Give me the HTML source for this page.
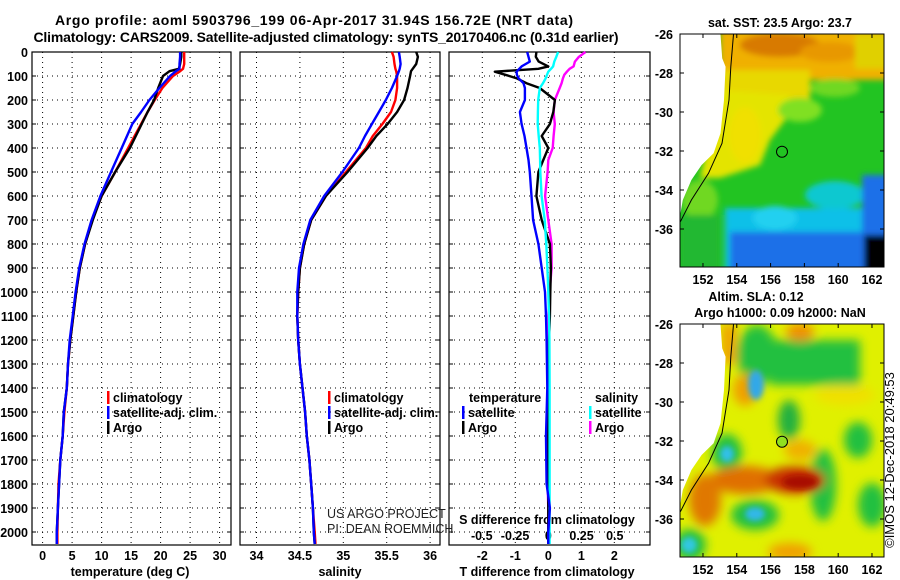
<!DOCTYPE html>
<html><head><meta charset="utf-8">
<style>
html,body{margin:0;padding:0;background:#fff;}
svg{display:block;font-family:"Liberation Sans",sans-serif;}
.b{font-weight:bold;}
</style></head>
<body>
<svg id="fig" width="900" height="580" viewBox="0 0 900 580">
<defs>
  <clipPath id="cTop"><rect x="680" y="34" width="204" height="233"/></clipPath>
  <clipPath id="cBot"><rect x="680" y="324" width="204" height="233"/></clipPath>
  <filter id="bl" x="-20%" y="-20%" width="140%" height="140%"><feGaussianBlur stdDeviation="3"/></filter>
  <filter id="bl2" x="-50%" y="-50%" width="200%" height="200%"><feGaussianBlur stdDeviation="5"/></filter>
</defs>
<g class="b" font-size="14" text-anchor="middle">
  <text x="314" y="25" textLength="518">Argo profile: aoml 5903796_199 06-Apr-2017 31.94S 156.72E (NRT data)</text>
  <text x="326" y="42" textLength="585">Climatology: CARS2009. Satellite-adjusted climatology: synTS_20170406.nc (0.31d earlier)</text>
</g>
<g id="panels"></g>
<!-- top map -->
<g>
 <g clip-path="url(#cTop)">
  <rect x="680" y="34" width="204" height="233" fill="#22c422"/>
  <g filter="url(#bl)">
   <rect x="720" y="30" width="170" height="50" fill="#f0b000"/>
   <rect x="720" y="70" width="90" height="30" fill="#e8d800"/>
   <ellipse cx="780" cy="45" rx="40" ry="12" fill="#d87a00"/>
   <ellipse cx="830" cy="52" rx="30" ry="10" fill="#e89800"/>
   <rect x="855" y="34" width="35" height="35" fill="#e0d000"/>
   <polygon points="720,90 790,95 785,120 770,140 760,165 720,178 700,178" fill="#e4e400"/>
   <ellipse cx="745" cy="135" rx="16" ry="28" fill="#f0e000"/>
   <ellipse cx="800" cy="110" rx="22" ry="12" fill="#80e020"/>
   <ellipse cx="835" cy="88" rx="25" ry="9" fill="#70d820"/>
   <ellipse cx="700" cy="200" rx="18" ry="20" fill="#70d820"/>
   <rect x="725" y="208" width="140" height="70" fill="#10c0e8"/>
   <ellipse cx="835" cy="195" rx="30" ry="14" fill="#10c8d0"/>
   <rect x="730" y="232" width="160" height="50" fill="#1a70e8"/>
   <rect x="862" y="175" width="30" height="80" fill="#1a70e8"/>
   <ellipse cx="775" cy="218" rx="22" ry="12" fill="#20d0f0"/>
   <rect x="864" y="235" width="30" height="40" fill="#000"/>
   <rect x="680" y="215" width="40" height="60" fill="#22b830"/>
  </g>
 </g>
</g>
<!-- bottom map -->
<g>
 <g clip-path="url(#cBot)">
  <rect x="680" y="324" width="204" height="233" fill="#e0f000"/>
  <g filter="url(#bl2)">
   <rect x="722" y="324" width="14" height="40" fill="#f0a000"/>
   <ellipse cx="757" cy="355" rx="20" ry="30" fill="#20c040"/>
   <rect x="770" y="340" width="90" height="45" fill="#20c040"/>
   <ellipse cx="800" cy="332" rx="14" ry="9" fill="#f09000"/>
   <ellipse cx="845" cy="395" rx="30" ry="10" fill="#f0e000"/>
   <ellipse cx="789" cy="420" rx="11" ry="20" fill="#20b040"/>
   <ellipse cx="727" cy="453" rx="15" ry="19" fill="#20c040"/>
   <ellipse cx="823" cy="485" rx="13" ry="36" fill="#20c040"/>
   <ellipse cx="858" cy="440" rx="14" ry="18" fill="#20c040"/>
   <ellipse cx="872" cy="505" rx="14" ry="22" fill="#20c040"/>
   <ellipse cx="755" cy="515" rx="24" ry="15" fill="#20c040"/>
   <ellipse cx="690" cy="545" rx="16" ry="16" fill="#20c040"/>
   <ellipse cx="745" cy="390" rx="12" ry="16" fill="#f0a000"/>
   <ellipse cx="745" cy="480" rx="35" ry="14" fill="#e07000"/>
   <ellipse cx="705" cy="500" rx="16" ry="26" fill="#e07800"/>
   <ellipse cx="800" cy="450" rx="16" ry="10" fill="#f0b000"/>
   <ellipse cx="790" cy="552" rx="22" ry="9" fill="#f0a000"/>
   <ellipse cx="795" cy="480" rx="30" ry="14" fill="#c83000"/>
  </g>
  <g filter="url(#bl)">
   <ellipse cx="756" cy="385" rx="8" ry="15" fill="#30a8e8"/>
   <ellipse cx="727" cy="454" rx="7" ry="8" fill="#30c0e8"/>
   <ellipse cx="755" cy="514" rx="10" ry="7" fill="#30b8e8"/>
   <ellipse cx="689" cy="545" rx="8" ry="8" fill="#30c8e0"/>
   <ellipse cx="800" cy="482" rx="18" ry="7" fill="#a81000"/>
  </g>
 </g>
</g>
<!-- land and overlays drawn on top of both maps -->
<g>
 <polygon points="680,34.5 720.5,34.5 722.2,58.3 725.6,66.7 724,100 720.5,133.3 713.6,153.3 701.6,165 691.4,180 682.8,200 680.5,213.3" fill="white" stroke="none"/>
 <polygon points="680,324.5 720.5,324.5 722.2,348.3 725.6,356.7 724,390 720.5,423.3 713.6,443.3 701.6,455 691.4,470 682.8,490 680.5,503.3" fill="white" stroke="none"/>
 <polyline points="733.5,34.3 730.8,66.7 729,100 722,143.3 708.5,173.3 691.4,200 680.4,221.7" fill="none" stroke="#000" stroke-width="1"/>
 <polyline points="733.5,324.3 730.8,356.7 729,390 722,433.3 708.5,463.3 691.4,490 680.4,511.7" fill="none" stroke="#000" stroke-width="1"/>
 <circle cx="782" cy="151.7" r="5.5" fill="none" stroke="#000" stroke-width="1"/>
 <circle cx="782" cy="441.7" r="5.5" fill="#90e020" stroke="#000" stroke-width="1"/>
 <rect x="680" y="34" width="204" height="233" fill="none" stroke="#000"/>
 <rect x="680" y="324" width="204" height="233" fill="none" stroke="#000"/>
</g>
<g id="maplabels" class="b" font-size="12.5"></g>
<text class="b" font-size="12.5" x="780" y="27" text-anchor="middle">sat. SST: 23.5 Argo: 23.7</text>
<text class="b" font-size="12.5" x="756" y="301" text-anchor="middle">Altim. SLA: 0.12</text>
<text class="b" font-size="12.5" x="780" y="317" text-anchor="middle">Argo h1000: 0.09 h2000: NaN</text>
<text font-size="13" transform="translate(894,460) rotate(-90)" text-anchor="middle">©IMOS 12-Dec-2018 20:49:53</text>
</svg>
<script>
// ---- data ----
const profDepths = [0,20,50,70,80,100,150,200,250,300,350,400,500,600,700,800,900,1000,1100,1200,1300,1400,1500,1600,1700,1800,1900,2000,2050];
const tempArgo = [23.5,23.5,23.3,23.1,21.5,20.4,19.6,18.9,17.8,16.8,15.8,14.8,12.3,10.0,8.5,7.2,6.3,5.7,5.2,4.7,4.3,4.1,3.6,3.4,3.0,2.8,2.6,2.4,2.4];
const tempClim = [24.0,24.0,24.0,23.8,23.3,22.1,20.3,19.0,17.8,16.7,15.6,14.5,12.3,10.0,8.4,7.2,6.3,5.7,5.2,4.7,4.3,4.1,3.7,3.4,3.0,2.7,2.6,2.5,2.5];
const tempSat = [23.3,23.3,23.2,23.2,22.6,21.6,19.8,18.1,16.7,15.2,14.3,13.4,11.6,9.8,8.3,7.1,6.2,5.6,5.1,4.6,4.3,4.1,3.6,3.4,3.0,2.8,2.6,2.4,2.4];
const salArgo = [35.84,35.86,35.84,35.80,35.78,35.77,35.74,35.70,35.62,35.51,35.38,35.28,35.05,34.80,34.63,34.55,34.50,34.48,34.47,34.48,34.50,34.53,34.56,34.58,34.61,34.63,34.65,34.66,34.67];
const salClim = [35.56,35.58,35.59,35.60,35.61,35.62,35.62,35.60,35.55,35.45,35.34,35.26,35.03,34.80,34.63,34.55,34.50,34.48,34.47,34.48,34.50,34.53,34.56,34.58,34.61,34.63,34.65,34.67,34.68];
const salSat = [35.64,35.65,35.66,35.65,35.64,35.62,35.56,35.49,35.41,35.33,35.25,35.18,34.99,34.78,34.62,34.54,34.49,34.47,34.47,34.48,34.50,34.53,34.56,34.58,34.61,34.63,34.65,34.66,34.67];
const diffDepths = [0,20,40,60,70,82,95,110,130,150,200,250,300,350,400,450,500,600,700,800,900,1000,1100,1200,1400,1600,1800,1900,2000,2050];
const tDiffArgo = [-0.36,-0.38,-0.29,0.0,-0.3,-1.62,-1.3,-0.95,-0.66,-0.26,0.2,0.15,0.05,-0.2,0.0,-0.15,-0.3,-0.36,-0.2,0.05,0.08,0.06,0.05,0.02,0.0,0.0,0.0,0.0,0.0,0.0];
const tDiffSat = [-0.64,-0.6,-0.56,-0.81,-0.88,-0.96,-0.95,-0.9,-0.75,-0.71,-0.71,-0.86,-0.81,-0.72,-0.66,-0.6,-0.56,-0.51,-0.46,-0.3,-0.2,-0.1,-0.07,-0.05,-0.03,-0.07,-0.05,0.05,0.0,0.0];
const sDiffSat = [0.074,0.06,0.045,0.036,0.02,0.0,-0.01,-0.02,-0.04,-0.064,-0.076,-0.078,-0.08,-0.072,-0.064,-0.062,-0.06,-0.05,-0.027,-0.015,-0.007,0.0,0.005,0.008,0.01,0.01,0.01,0.01,0.01,0.01];
const sDiffArgo = [0.28,0.23,0.2,0.19,0.16,0.14,0.12,0.11,0.1,0.086,0.049,0.04,0.049,0.04,0.033,0.0,-0.005,-0.024,0.0,0.025,0.025,0.01,0.0,0.0,0.0,0.0,-0.005,0.0,0.0,0.0];
const depthTicks = [0,100,200,300,400,500,600,700,800,900,1000,1100,1200,1300,1400,1500,1600,1700,1800,1900,2000];
const tempTicks = [0,5,10,15,20,25,30];
const salTicks = [34,34.5,35,35.5,36];
const tDiffTicks = [-2,-1,0,1,2];
const sDiffTicks = [-0.5,-0.25,0,0.25,0.5];
const latTicks = [-26,-28,-30,-32,-34,-36];
const lonTicks = [152,154,156,158,160,162];

const NS='http://www.w3.org/2000/svg';
const P=document.getElementById('panels');
function mk(tag,at,parent){const e=document.createElementNS(NS,tag);for(const k in at)e.setAttribute(k,at[k]);(parent||P).appendChild(e);return e;}
const TOP=52,BOT=545;
const yD=d=>TOP+d*0.24;
const xT=v=>42.6+v*5.9, xS=v=>256.5+(v-34)*86.8, xTd=v=>548.3+v*33, xSd=v=>548.3+v*133;
const panels=[[32,231],[240,440],[449,650]];

panels.forEach((p,i)=>{
  const r=mk('rect',{x:p[0],y:TOP,width:p[1]-p[0],height:BOT-TOP,fill:'none',stroke:'#000','stroke-width':1.2});
  
  
  depthTicks.forEach(d=>{
    const y=yD(d);
    if(d>0){const g=mk('line',{x1:p[0],x2:p[1],y1:y,y2:y,stroke:'#000','stroke-dasharray':'1 4'});
    
    }
    mk('line',{x1:p[0],x2:p[0]+4,y1:y,y2:y,stroke:'#000'});
    mk('line',{x1:p[1]-4,x2:p[1],y1:y,y2:y,stroke:'#000'});
  });
});
depthTicks.forEach(d=>{
  const t=mk('text',{x:28,y:yD(d)+5,'text-anchor':'end','font-size':12.5,'font-weight':'bold'});
  t.textContent=d;
  
  
});
function xAxis(ticks,fx,label,lx,name){
  ticks.forEach(v=>{
    const x=fx(v);
    const g=mk('line',{x1:x,x2:x,y1:TOP,y2:BOT,stroke:'#000','stroke-dasharray':'1 4'});
    
    
    const t=mk('text',{x:x,y:560,'text-anchor':'middle','font-size':12.5,'font-weight':'bold'});
    t.textContent=v;
    
    
  });
  const l=mk('text',{x:lx,y:576,'text-anchor':'middle','font-size':12.5,'font-weight':'bold'});
  l.textContent=label;
  
  
}
xAxis(tempTicks,xT,'temperature (deg C)',130,'temperature');
xAxis(salTicks,xS,'salinity',340,'salinity');
xAxis(tDiffTicks,xTd,'T difference from climatology',547,'t-diff');
sDiffTicks.forEach(v=>{
  const t=mk('text',{x:xSd(v),y:540,'text-anchor':'middle','font-size':12.5,'font-weight':'bold'});
  t.textContent=v;
  
  
});
const st=mk('text',{x:547,y:524,'text-anchor':'middle','font-size':12.5,'font-weight':'bold'});
st.textContent='S difference from climatology';



function line(depths,vals,fx,color,name){
  const pts=depths.map((d,i)=>fx(vals[i]).toFixed(1)+','+yD(d).toFixed(1)).join(' ');
  const l=mk('polyline',{points:pts,fill:'none',stroke:color,'stroke-width':2.4,'stroke-linejoin':'round'});
  
  
}
line(profDepths,tempClim,xT,'#f00','temp-climatology-line');
line(profDepths,tempArgo,xT,'#000','temp-argo-line');
line(profDepths,tempSat,xT,'#00f','temp-satellite-line');
line(profDepths,salClim,xS,'#f00','sal-climatology-line');
line(profDepths,salArgo,xS,'#000','sal-argo-line');
line(profDepths,salSat,xS,'#00f','sal-satellite-line');
line(diffDepths,sDiffArgo,xSd,'#f0f','sdiff-argo-line');
line(diffDepths,tDiffArgo,xTd,'#000','tdiff-argo-line');
line(diffDepths,sDiffSat,xSd,'#0ff','sdiff-satellite-line');
line(diffDepths,tDiffSat,xTd,'#00f','tdiff-satellite-line');

function legend(x,y,color,txt){
  if(color){const m=mk('rect',{x:x,y:y-11,width:2.5,height:13,fill:color});
  
  }
  const t=mk('text',{x:x+6,y:y,'font-size':12.5,'font-weight':'bold'});
  t.textContent=txt;
  
  
}
legend(107,402,'#f00','climatology');legend(107,417,'#00f','satellite-adj. clim.');legend(107,432,'#000','Argo');
legend(328,402,'#f00','climatology');legend(328,417,'#00f','satellite-adj. clim.');legend(328,432,'#000','Argo');
legend(463,402,null,'temperature');legend(462,417,'#00f','satellite');legend(462,432,'#000','Argo');
legend(589,402,null,'salinity');legend(589,417,'#0ff','satellite');legend(589,432,'#f0f','Argo');
const c1=mk('text',{x:327,y:518,'font-size':12.5,fill:'#222'});c1.textContent='US ARGO PROJECT';


const c2=mk('text',{x:327,y:533,'font-size':12.5,fill:'#222'});c2.textContent='PI: DEAN ROEMMICH';



// map axes
const ML=document.getElementById('maplabels');
const xLon=v=>680+(v-150.64)*16.9, yLat=(v,top)=>top+(-26-v)*19.5;
[34,324].forEach(top=>{
  latTicks.forEach(v=>{
    const y=yLat(v,top);
    const t=mk('text',{x:673,y:y+5,'text-anchor':'end'},ML);t.textContent=v;
    
    
    mk('line',{x1:680,x2:684,y1:y,y2:y,stroke:'#000'},ML);
    mk('line',{x1:880,x2:884,y1:y,y2:y,stroke:'#000'},ML);
  });
  lonTicks.forEach(v=>{
    const x=xLon(v);
    const t=mk('text',{x:x,y:top+250,'text-anchor':'middle'},ML);t.textContent=v;
    
    
    mk('line',{x1:x,x2:x,y1:top,y2:top+4,stroke:'#000'},ML);
    mk('line',{x1:x,x2:x,y1:top+229,y2:top+233,stroke:'#000'},ML);
  });
});
</script>
</body></html>
